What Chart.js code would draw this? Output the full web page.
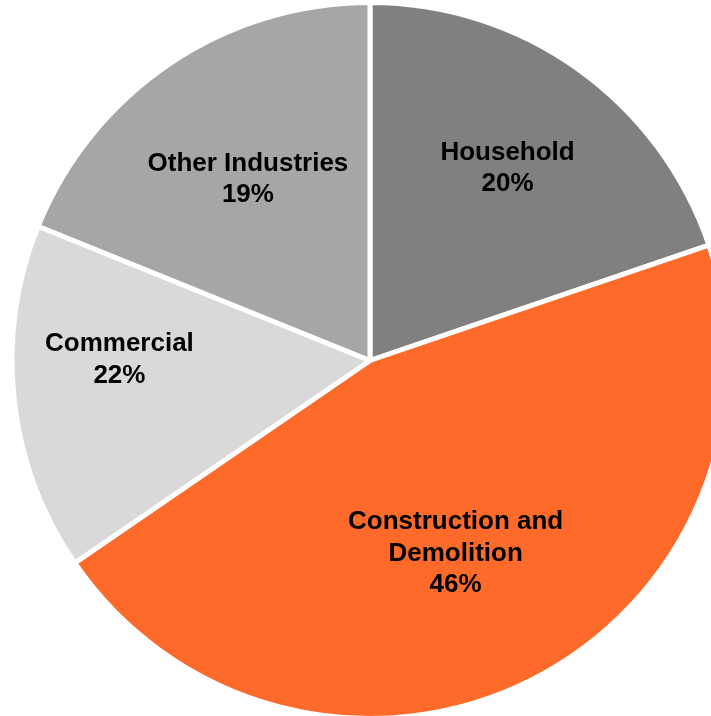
<!DOCTYPE html>
<html>
<head>
<meta charset="utf-8">
<script src="https://cdn.jsdelivr.net/npm/chart.js@4"></script>
<style>
  html, body { margin: 0; padding: 0; background: #fff; overflow: hidden; }
  #wrap { position: relative; width: 740px; height: 716px; overflow: hidden; }
</style>
</head>
<body>
<div id="wrap"><canvas id="grafico_pizza"></canvas></div>
<script>
let ctx = document.getElementById('grafico_pizza')

// categorias e valores (fatias medidas pelo ângulo, rótulos como aparecem)
const categories = ['Household', 'Construction and Demolition', 'Commercial', 'Other Industries']
const values = [19.8, 45.7, 15.7, 18.9]
const pctLabels = ['20%', '46%', '22%', '19%']
const labelLines = [['Household'], ['Construction and', 'Demolition'], ['Commercial'], ['Other Industries']]
const colors = ['#808080', '#fd6a2a', '#d9d9d9', '#a6a6a6']

// rótulos dentro das fatias
const sliceLabels = {
    id: 'sliceLabels',
    afterDatasetsDraw(chart, args, opts) {
        const c = chart.ctx
        const meta = chart.getDatasetMeta(0)
        c.save()
        c.font = 'bold 26px "Liberation Sans", Arial, sans-serif'
        c.fillStyle = '#000'
        c.textAlign = 'center'
        c.textBaseline = 'middle'
        meta.data.forEach((arc, i) => {
            const mid = (arc.startAngle + arc.endAngle) / 2 + opts.turn[i] * Math.PI / 180
            const r = arc.outerRadius * opts.dist[i]
            const x = arc.x + Math.cos(mid) * r
            const y = arc.y + Math.sin(mid) * r
            const lines = labelLines[i].concat([pctLabels[i]])
            const lh = 31.5
            const y0 = y - (lines.length - 1) * lh / 2
            lines.forEach((t, k) => c.fillText(t, x, y0 + k * lh))
        })
        c.restore()
    }
}

const data = {
    labels: categories,
    datasets: [{
        data: values,
        backgroundColor: colors,
        borderColor: '#fff',
        borderWidth: 5
    }]
}

const config = {
    type: 'pie',
    data,
    options: {
        responsive: false,
        animation: false,
        layout: { padding: 0 },
        plugins: {
            legend: { display: false },
            tooltip: { enabled: false },
            sliceLabels: {
                dist: [0.66, 0.59, 0.70, 0.61],
                turn: [0, 2.7, 6.4, 0]
            }
        }
    },
    plugins: [sliceLabels]
}

ctx.width = 740
ctx.height = 721
const graph = new Chart(ctx, config)
</script>
</body>
</html>
